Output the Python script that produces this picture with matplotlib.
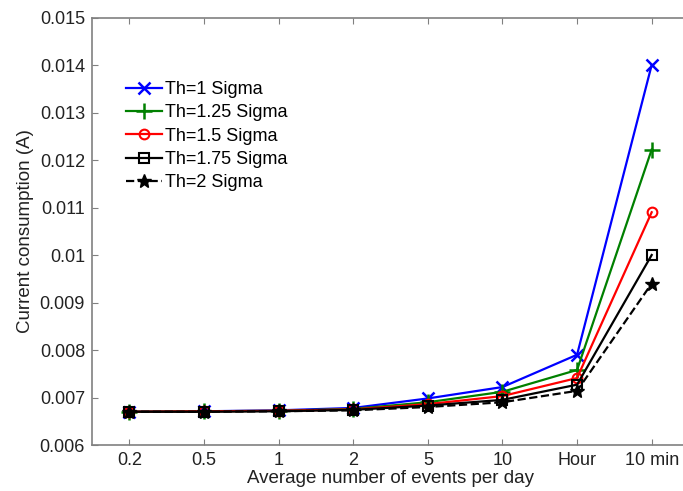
import matplotlib
matplotlib.use("Agg")
import matplotlib.pyplot as plt

plt.rcParams['font.family'] = ['Liberation Sans', 'DejaVu Sans']

# categories on the x axis
labels = ['0.2', '0.5', '1', '2', '5', '10', 'Hour', '10 min']
x = list(range(1, len(labels) + 1))

# current consumption (A) for each threshold
th_1 = [0.00670, 0.00671, 0.00673, 0.00678, 0.00698, 0.00722, 0.00790, 0.01400]
th_125 = [0.00670, 0.00671, 0.00672, 0.00676, 0.00690, 0.00712, 0.00758, 0.01222]
th_15 = [0.00670, 0.00671, 0.00672, 0.00675, 0.00686, 0.00703, 0.00741, 0.01090]
th_175 = [0.00670, 0.00670, 0.00671, 0.00674, 0.00683, 0.00695, 0.00727, 0.01000]
th_2 = [0.00670, 0.00670, 0.00671, 0.00673, 0.00680, 0.00690, 0.00714, 0.00940]

fig = plt.figure(figsize=(6.83, 4.91), dpi=100)
ax = fig.add_axes([92/683, 46/491, 597/683, 427.5/491])

ax.plot(x, th_1, color='#0000ff', marker='x', ms=8, mew=1.8, lw=1.6, label='Th=1 Sigma')
ax.plot(x, th_125, color='#008000', marker='+', ms=11, mew=1.8, lw=1.6, label='Th=1.25 Sigma')
ax.plot(x, th_15, color='#ff0000', marker='o', ms=7, mfc='none', mew=1.5, lw=1.6, label='Th=1.5 Sigma')
ax.plot(x, th_175, color='black', marker='s', ms=7, mfc='none', mew=1.5, lw=1.6, label='Th=1.75 Sigma')
ax.plot(x, th_2, color='black', marker='*', ms=10, lw=1.6, ls='--', label='Th=2 Sigma')

ax.set_xlim(0.5, 8.5)
ax.set_ylim(0.006, 0.015)
ax.set_xticks(x)
ax.set_xticklabels(labels)
ax.set_yticks([0.006, 0.007, 0.008, 0.009, 0.01, 0.011, 0.012, 0.013, 0.014, 0.015])
ax.set_yticklabels(['0.006', '0.007', '0.008', '0.009', '0.01', '0.011',
                    '0.012', '0.013', '0.014', '0.015'])
ax.tick_params(direction='in', top=True, right=True, length=4, color='#808080',
               labelsize=13, labelcolor='#222222', pad=5)
for s in ax.spines.values():
    s.set_color('#808080')
    s.set_linewidth(1.2)

ax.set_xlabel('Average number of events per day', fontsize=13.5, color='#222222', labelpad=1)
ax.set_ylabel('Current consumption (A)', fontsize=13.5, color='#222222', labelpad=4)

ax.legend(loc='upper left', bbox_to_anchor=(0.045, 0.868), frameon=False, fontsize=13,
          handlelength=2.0, handletextpad=0.15, labelspacing=0.35, borderaxespad=0)

fig.savefig('out.png', dpi=100)
